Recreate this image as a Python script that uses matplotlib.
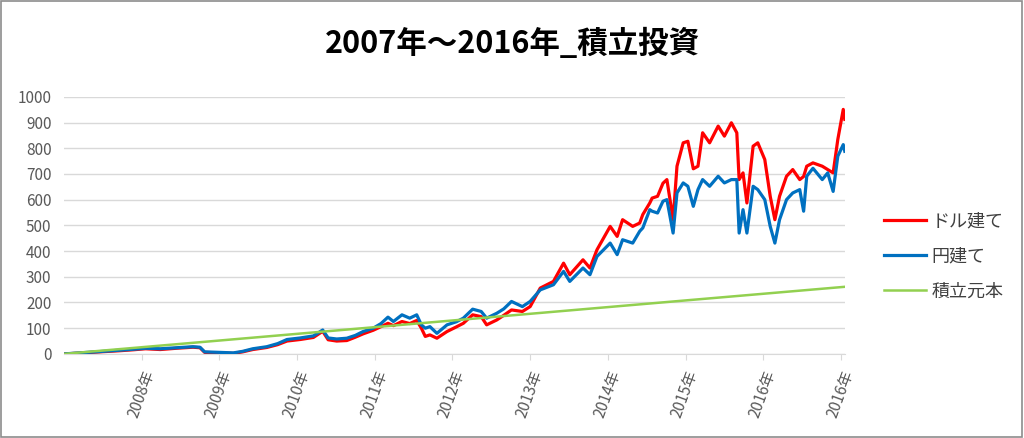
import matplotlib
matplotlib.use("Agg")
import matplotlib.pyplot as plt
from matplotlib.patches import Rectangle

plt.rcParams['font.family'] = ['Noto Sans CJK JP', 'DejaVu Sans']

title = "2007年～2016年_積立投資"
series_names = ["ドル建て", "円建て", "積立元本"]

# years elapsed since start of 2007
years = [0.00, 0.20, 0.46, 0.70, 0.89, 1.05, 1.24, 1.45, 1.66, 1.75, 1.81, 2.00, 2.18, 2.30,
         2.43, 2.61, 2.75, 2.87, 3.04, 3.21, 3.33, 3.40, 3.51, 3.64, 3.75, 3.85, 3.98, 4.08,
         4.17, 4.24, 4.35, 4.45, 4.54, 4.60, 4.65, 4.71, 4.80, 4.93, 5.05, 5.14, 5.26, 5.37,
         5.44, 5.57, 5.66, 5.76, 5.90, 6.00, 6.13, 6.30, 6.43, 6.51, 6.68, 6.77, 6.86, 7.03,
         7.12, 7.19, 7.32, 7.41, 7.45, 7.54, 7.57, 7.64, 7.71, 7.76, 7.84, 7.89, 7.97, 8.03,
         8.10, 8.16, 8.22, 8.31, 8.42, 8.50, 8.59, 8.66, 8.69, 8.74, 8.79, 8.87, 8.93, 9.02,
         9.09, 9.15, 9.21, 9.30, 9.38, 9.47, 9.52, 9.56, 9.64, 9.76, 9.83, 9.90, 9.96, 10.03,
         10.05]

yen_values = [0, 4, 9, 14, 18, 22, 20, 24, 28, 26, 8, 6, 4, 10,
              20, 28, 40, 56, 62, 70, 93, 62, 58, 61, 72, 87, 100, 118,
              143, 126, 152, 139, 152, 113, 100, 106, 80, 113, 125, 139, 174, 165,
              139, 158, 175, 204, 184, 204, 249, 269, 321, 282, 334, 308, 379, 431,
              386, 444, 431, 477, 490, 561, 555, 548, 594, 600, 470, 626, 665, 652,
              574, 639, 678, 652, 691, 665, 678, 678, 470, 561, 470, 652, 639, 600,
              496, 431, 522, 600, 626, 639, 555, 691, 722, 678, 704, 632, 769, 814,
              788]

dollar_values = [0, 3, 8, 12, 16, 20, 17, 22, 26, 24, 6, 4, 2, 8,
                 17, 25, 36, 50, 56, 64, 88, 55, 50, 52, 65, 78, 92, 106,
                 119, 110, 126, 118, 130, 100, 68, 74, 61, 87, 105, 119, 152, 145,
                 113, 132, 150, 171, 165, 184, 256, 282, 353, 308, 366, 334, 405, 496,
                 457, 522, 496, 509, 542, 587, 606, 613, 664, 678, 522, 730, 821, 827,
                 720, 730, 860, 821, 886, 847, 899, 860, 678, 704, 587, 808, 821, 756,
                 613, 522, 613, 691, 717, 678, 690, 730, 743, 730, 717, 704, 834, 951,
                 912]

principal_years = [0.0, 2.0, 4.0, 6.0, 8.0, 10.05]
principal_values = [0, 52, 104, 156, 208, 261]

tick_pos = [1, 2, 3, 4, 5, 6, 7, 8, 9, 10]
tick_labels = ["2008年", "2009年", "2010年", "2011年", "2012年", "2013年",
               "2014年", "2015年", "2016年", "2016年"]
y_ticks = list(range(0, 1001, 100))

fig = plt.figure(figsize=(10.24, 4.38), dpi=100)
ax = fig.add_axes([0.0625, 0.192, 0.7625, 0.587])

ax.plot(years, dollar_values, color="#FF0000", lw=2.3, label=series_names[0], zorder=3)
ax.plot(years, yen_values, color="#0070C0", lw=2.3, label=series_names[1], zorder=4)
ax.plot(principal_years, principal_values, color="#92D050", lw=1.8, label=series_names[2], zorder=5)

ax.set_xlim(0, 10.05)
ax.set_ylim(0, 1000)
ax.set_yticks(y_ticks)
ax.set_yticklabels([str(v) for v in y_ticks])
ax.set_xticks(tick_pos)
ax.set_xticklabels(tick_labels, rotation=70, ha="right", va="top", rotation_mode="anchor")
ax.grid(axis="y", color="#D9D9D9", lw=1.0, zorder=0)
for s in ["top", "right", "left"]:
    ax.spines[s].set_visible(False)
ax.spines["bottom"].set_color("#D9D9D9")
ax.tick_params(axis="y", length=0, pad=9, labelsize=11, labelcolor="#595959")
ax.tick_params(axis="x", length=4, color="#D9D9D9", pad=6, labelsize=11, labelcolor="#595959")

fig.suptitle(title, x=0.5, y=0.935, fontsize=22, fontweight="bold", color="#000000")

leg = ax.legend(loc="center left", bbox_to_anchor=(1.03, 0.38), frameon=False,
                fontsize=13, handlelength=2.3, handletextpad=0.3, labelspacing=0.95)
for t in leg.get_texts():
    t.set_color("#404040")

fig.patches.append(Rectangle((0.001, 0.002), 0.997, 0.995, transform=fig.transFigure,
                             fill=False, edgecolor="#8C8C8C", lw=1.2))

fig.savefig("out.png", dpi=100)
